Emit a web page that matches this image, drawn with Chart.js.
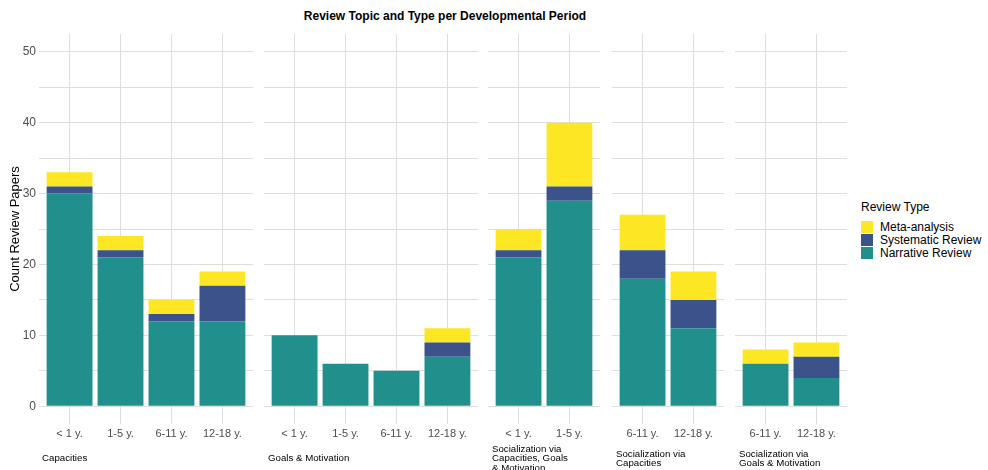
<!DOCTYPE html>
<html>
<head>
<meta charset="utf-8">
<script src="https://cdn.jsdelivr.net/npm/chart.js@4.4.1/dist/chart.umd.min.js"></script>
<style>
    body { margin: 0; background: #fff; font-family: "Liberation Sans", Arial, sans-serif; }
    #wrap { position: relative; width: 988px; height: 470px; overflow: hidden; }
    .panel { position: absolute; top: 30px; height: 416px; }
    .strip { position: absolute; font-size: 9.7px; line-height: 9.3px; color: #000; top: 444px; height: 28px; display: flex; align-items: center; }
    #title { position: absolute; top: 9px; left: 0; width: 890px; text-align: center; font-weight: bold; font-size: 12px; color: #000; }
    #legend { position: absolute; left: 861px; top: 200px; font-size: 12px; color: #000; }
    .key { display: flex; align-items: center; height: 13px; }
    .key span { display: inline-block; width: 12px; height: 12px; margin-right: 7px; }
</style>
</head>
<body>
<div id="wrap">
    <div id="title">Review Topic and Type per Developmental Period</div>
    <div id="legend"></div>
</div>
<script>
// y axis
var yTicks = [0, 5, 10, 15, 20, 25, 30, 35, 40, 45, 50];

// Capacities
var capCats = ['< 1 y.', '1-5 y.', '6-11 y.', '12-18 y.'];
var capNarrative = [30, 21, 12, 12];
var capSystematic = [1, 1, 1, 5];
var capMeta = [2, 2, 2, 2];

// Goals & Motivation
var goalCats = ['< 1 y.', '1-5 y.', '6-11 y.', '12-18 y.'];
var goalNarrative = [10, 6, 5, 7];
var goalSystematic = [0, 0, 0, 2];
var goalMeta = [0, 0, 0, 2];

// Socialization via Capacities, Goals & Motivation
var socAllCats = ['< 1 y.', '1-5 y.'];
var socAllNarrative = [21, 29];
var socAllSystematic = [1, 2];
var socAllMeta = [3, 9];

// Socialization via Capacities
var socCapCats = ['6-11 y.', '12-18 y.'];
var socCapNarrative = [18, 11];
var socCapSystematic = [4, 4];
var socCapMeta = [5, 4];

// Socialization via Goals & Motivation
var socGoalCats = ['6-11 y.', '12-18 y.'];
var socGoalNarrative = [6, 4];
var socGoalSystematic = [0, 3];
var socGoalMeta = [2, 2];

var typeNames = ['Narrative Review', 'Systematic Review', 'Meta-analysis'];
var typeColors = ['#21908C', '#3B528B', '#FDE725'];

var gridColor = '#dedede';
var tickColor = '#4d4d4d';
var fontFam = '"Liberation Sans", Arial, sans-serif';

function toPoints(arr) {
    return arr.map(function(v, i) { return {x: i, y: v}; });
}

function makePanel(id, left, width, strip, cats, narrative, systematic, meta, first) {
    var box = document.createElement('div');
    box.className = 'panel';
    box.style.left = left + 'px';
    box.style.width = width + 'px';
    var cv = document.createElement('canvas');
    cv.id = id;
    box.appendChild(cv);
    document.getElementById('wrap').appendChild(box);

    var s = document.createElement('div');
    s.className = 'strip';
    s.style.left = (left + (first ? 42 : 4)) + 'px';
    s.innerHTML = strip.join('<br>');
    document.getElementById('wrap').appendChild(s);

    var series = [narrative, systematic, meta];
    var datasets = [];
    for (var k = 0; k < 3; k++) {
        datasets.push({
            label: typeNames[k],
            data: toPoints(series[k]),
            backgroundColor: typeColors[k],
            borderWidth: 0,
            barPercentage: 0.9,
            categoryPercentage: 1.0
        });
    }

    new Chart(cv.getContext('2d'), {
        type: 'bar',
        data: { datasets: datasets },
        options: {
            responsive: true,
            maintainAspectRatio: false,
            animation: false,
            layout: { padding: { top: 4, left: 0, right: 0, bottom: 0 } },
            plugins: { legend: { display: false }, tooltip: { enabled: false } },
            scales: {
                x: {
                    type: 'linear',
                    stacked: true,
                    offset: false,
                    min: -0.6,
                    max: cats.length - 0.4,
                    afterBuildTicks: function(scale) {
                        scale.ticks = cats.map(function(c, i) { return {value: i}; });
                    },
                    afterFit: function(scale) {
                        scale.height = 22;
                        scale.paddingLeft = 0;
                        scale.paddingRight = 0;
                    },
                    grid: { color: gridColor, drawTicks: false, lineWidth: 1, offset: false },
                    border: { display: false },
                    ticks: {
                        color: tickColor,
                        padding: 3,
                        maxRotation: 0,
                        autoSkip: false,
                        font: { family: fontFam, size: 11 },
                        callback: function(v) { return cats[v]; }
                    }
                },
                y: {
                    stacked: true,
                    min: -2.5,
                    max: 52.5,
                    afterBuildTicks: function(scale) {
                        scale.ticks = yTicks.map(function(v) { return {value: v}; });
                    },
                    afterFit: function(scale) {
                        scale.width = first ? 39 : 0;
                        scale.paddingTop = 0;
                        scale.paddingBottom = 0;
                    },
                    grid: { color: gridColor, drawTicks: false, lineWidth: 1 },
                    border: { display: false },
                    title: {
                        display: first,
                        text: 'Count Review Papers',
                        color: '#000',
                        padding: { top: 8, bottom: 0 },
                        font: { family: fontFam, size: 13 }
                    },
                    ticks: {
                        display: first,
                        color: tickColor,
                        padding: 3,
                        font: { family: fontFam, size: 12 },
                        callback: function(v) { return v % 10 === 0 ? v : ''; }
                    }
                }
            }
        }
    });
}

makePanel('myChart1', 0, 253, ['Capacities'], capCats, capNarrative, capSystematic, capMeta, true);
makePanel('myChart2', 264, 214, ['Goals & Motivation'], goalCats, goalNarrative, goalSystematic, goalMeta, false);
makePanel('myChart3', 488, 112, ['Socialization via', 'Capacities, Goals', '& Motivation'], socAllCats, socAllNarrative, socAllSystematic, socAllMeta, false);
makePanel('myChart4', 612, 112, ['Socialization via', 'Capacities'], socCapCats, socCapNarrative, socCapSystematic, socCapMeta, false);
makePanel('myChart5', 735, 112, ['Socialization via', 'Goals & Motivation'], socGoalCats, socGoalNarrative, socGoalSystematic, socGoalMeta, false);

// legend (top item = top of stack)
var lg = document.getElementById('legend');
var html = '<div style="margin-bottom:6px">Review Type</div>';
for (var k = 2; k >= 0; k--) {
    html += '<div class="key"><span style="background:' + typeColors[k] + '"></span>' + typeNames[k] + '</div>';
}
lg.innerHTML = html;
</script>
</body>
</html>
